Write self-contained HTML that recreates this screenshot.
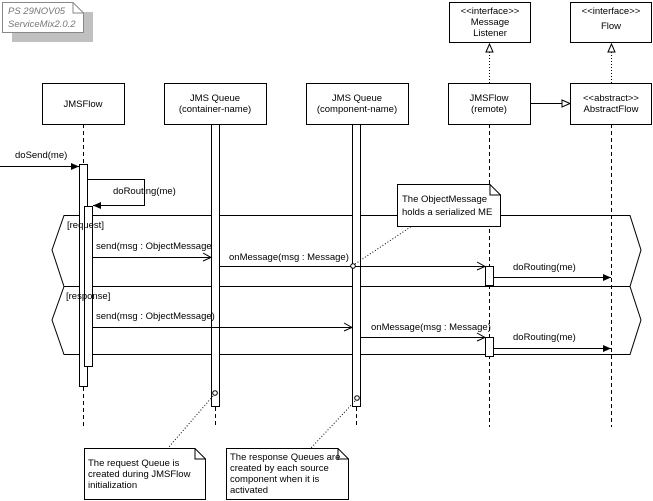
<!DOCTYPE html>
<html><head><style>body{margin:0;background:#fff}svg{display:block}text{font-family:"Liberation Sans",sans-serif;font-size:9.5px;fill:#000}</style></head><body>
<svg width="653" height="501" viewBox="0 0 653 501" xmlns="http://www.w3.org/2000/svg">
<rect width="653" height="501" fill="#fff"/>
<rect x="12" y="12" width="81" height="30" fill="#c0c0c0"/>
<path d="M2.5 2.5H73L83.5 13V32.5H2.5Z" fill="#fff" stroke="#888"/>
<path d="M73 2.5V13H83.5" fill="none" stroke="#888"/>
<text x="8" y="14" style="font-style:italic;fill:#777">PS 29NOV05</text>
<text x="8" y="27" style="font-style:italic;fill:#777">ServiceMix2.0.2</text>
<g fill="#fff" stroke="#000">
<rect x="42.5" y="83.5" width="82" height="41"/>
<rect x="164.5" y="83.5" width="102" height="41"/>
<rect x="306.5" y="83.5" width="102" height="41"/>
<rect x="448.5" y="83.5" width="82" height="41"/>
<rect x="570.5" y="83.5" width="81" height="41"/>
<rect x="449.5" y="2.5" width="81" height="40"/>
<rect x="570.5" y="2.5" width="81" height="40"/>
</g>
<g text-anchor="middle">
<text x="83" y="107">JMSFlow</text>
<text x="215" y="101">JMS Queue</text><text x="215" y="112">(container-name)</text>
<text x="357" y="101">JMS Queue</text><text x="357" y="112">(component-name)</text>
<text x="489" y="101">JMSFlow</text><text x="489" y="112">(remote)</text>
<text x="611" y="101">&lt;&lt;abstract&gt;&gt;</text><text x="611" y="112">AbstractFlow</text>
<text x="490" y="14">&lt;&lt;interface&gt;&gt;</text><text x="490" y="25">Message</text><text x="490" y="36">Listener</text>
<text x="611" y="14">&lt;&lt;interface&gt;&gt;</text><text x="611" y="29">Flow</text>
</g>
<g stroke="#000" fill="none">
<path d="M489.5 83V50M611.5 83V50" stroke-dasharray="1,2"/>
<path d="M486 52L489.5 44L493 52Z M608 52L611.5 44L615 52Z" fill="#fff"/>
<path d="M531 103.5H562"/>
<path d="M562 100L570 103.5L562 107Z" fill="#fff"/>
<path d="M83.5 124V164M83.5 387V427M215.5 407V427M356.5 407V427M489.5 124V427M611.5 124V427" stroke-dasharray="4,3"/>
</g>
<g stroke="#000" fill="none">
<path d="M64 215.5H630L641 250L630 286.5H64L52 250Z"/>
<path d="M64 286.5H630L641 320L630 354.5H64L52 320Z"/>
</g>
<g fill="#fff" stroke="#000">
<rect x="79.5" y="164.5" width="8" height="222"/>
<rect x="84.5" y="206.5" width="8" height="160"/>
<rect x="211.5" y="124.5" width="8" height="282"/>
<rect x="352.5" y="124.5" width="8" height="282"/>
<rect x="485.5" y="266.5" width="8" height="19"/>
<rect x="485.5" y="337.5" width="8" height="19"/>
</g>
<text x="67" y="228">[request]</text>
<text x="66" y="299">[response]</text>
<g stroke="#000" fill="none">
<path d="M0 166.5H79"/>
<path d="M88 179.5H144.5V205.5H93"/>
<path d="M93 257.5H211M203 253L211 257.5L203 261"/>
<path d="M220 266.5H485M477 262L485 266.5L477 270"/>
<path d="M494 277.5H611"/>
<path d="M93 327.5H352M344 323L352 327.5L344 331"/>
<path d="M361 337.5H485M477 333L485 337.5L477 341"/>
<path d="M494 348.5H611"/>
</g>
<g fill="#000">
<path d="M71 163L79 166.5L71 170Z"/>
<path d="M101 202L93 205.5L101 209Z"/>
<path d="M603 274L611 277.5L603 281Z"/>
<path d="M603 345L611 348.5L603 352Z"/>
</g>
<text x="15" y="158">doSend(me)</text>
<text x="113" y="194">doRouting(me)</text>
<text x="96" y="249">send(msg : ObjectMessage</text>
<text x="229" y="260">onMessage(msg : Message)</text>
<text x="513" y="270">doRouting(me)</text>
<text x="96" y="319">send(msg : ObjectMessage)</text>
<text x="371" y="330">onMessage(msg : Message)</text>
<text x="513" y="340">doRouting(me)</text>
<g stroke="#000" fill="none">
<circle cx="353" cy="266" r="2.3" fill="#fff"/>
<circle cx="215" cy="393" r="2.3" fill="#fff"/>
<circle cx="357" cy="398" r="2.3" fill="#fff"/>
<path d="M355 264L412 226M213 396L168 448M355 401L311 448" stroke-dasharray="1,2"/>
<path d="M397.5 184.5H490L500.5 195V226.5H397.5Z" fill="#fff"/>
<path d="M490 184.5V195H500.5"/>
<path d="M84.5 448.5H195L205.5 459V499.5H84.5Z" fill="#fff"/>
<path d="M195 448.5V459H205.5"/>
<path d="M226.5 448.5H338L348.5 459V499.5H226.5Z" fill="#fff"/>
<path d="M338 448.5V459H348.5"/>
</g>
<text x="402" y="202">The ObjectMessage</text>
<text x="402" y="215">holds a serialized ME</text>
<text x="88" y="466">The request Queue is</text>
<text x="88" y="477">created during JMSFlow</text>
<text x="88" y="488">initialization</text>
<text x="230" y="460">The response Queues are</text>
<text x="230" y="471">created by each source</text>
<text x="230" y="482">component when it is</text>
<text x="230" y="493">activated</text>
</svg>
</body></html>
